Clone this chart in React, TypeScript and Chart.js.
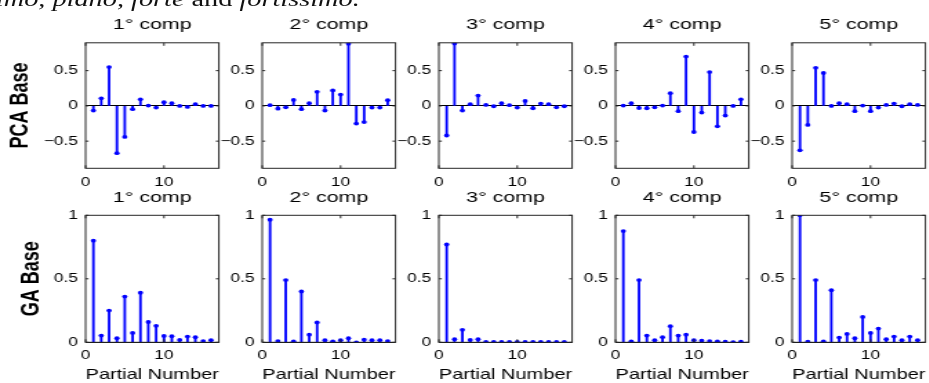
import React, { useEffect, useRef } from "react";
import { Chart, registerables } from "chart.js";
Chart.register(...registerables);

// ---------- data ----------
const partialNumbers = [1, 2, 3, 4, 5, 6, 7, 8, 9, 10, 11, 12, 13, 14, 15, 16];
const compTitles = ["1° comp", "2° comp", "3° comp", "4° comp", "5° comp"];
const rowLabels = ["PCA Base", "GA Base"];
const xAxisLabel = "Partial Number";
const xTicks = [0, 10];
const pcaYTicks = [-0.5, 0, 0.5];
const gaYTicks = [0, 0.5, 1];

const pcaComp1 = [-0.066, 0.108, 0.55, -0.67, -0.44, -0.047, 0.094, 0.005, -0.024, 0.052, 0.038, 0.0, -0.014, 0.024, 0.0, 0.0];
const pcaComp2 = [0.01, -0.04, -0.02, 0.085, -0.047, 0.038, 0.2, -0.066, 0.22, 0.16, 0.88, -0.25, -0.23, -0.024, -0.024, 0.08];
const pcaComp3 = [-0.42, 0.885, -0.066, 0.024, 0.146, 0.014, -0.005, 0.038, 0.01, -0.024, 0.07, -0.033, 0.033, 0.024, -0.02, -0.005];
const pcaComp4 = [0.005, 0.038, -0.03, -0.033, -0.02, 0.005, 0.18, -0.075, 0.7, -0.37, -0.094, 0.48, -0.29, -0.137, 0.0, 0.094];
const pcaComp5 = [-0.63, -0.27, 0.54, 0.467, 0.0, 0.038, 0.024, -0.075, 0.005, -0.075, -0.024, 0.014, 0.033, -0.005, 0.024, 0.014];

const gaComp1 = [0.8, 0.053, 0.25, 0.032, 0.36, 0.074, 0.39, 0.16, 0.13, 0.05, 0.048, 0.019, 0.045, 0.04, 0.01, 0.016];
const gaComp2 = [0.965, 0.01, 0.49, 0.008, 0.4, 0.06, 0.156, 0.016, 0.008, 0.016, 0.032, 0.0, 0.02, 0.016, 0.016, 0.01];
const gaComp3 = [0.77, 0.024, 0.098, 0.018, 0.024, 0.003, 0.003, 0.003, 0.003, 0.003, 0.003, 0.003, 0.003, 0.003, 0.003, 0.003];
const gaComp4 = [0.876, 0.008, 0.49, 0.053, 0.016, 0.04, 0.127, 0.053, 0.06, 0.016, 0.013, 0.01, 0.008, 0.005, 0.002, 0.005];
const gaComp5 = [1.0, 0.005, 0.49, 0.008, 0.41, 0.037, 0.066, 0.032, 0.2, 0.074, 0.108, 0.024, 0.045, 0.016, 0.045, 0.016];

const pcaSeries = [pcaComp1, pcaComp2, pcaComp3, pcaComp4, pcaComp5];
const gaSeries = [gaComp1, gaComp2, gaComp3, gaComp4, gaComp5];

// ---------- layout / style ----------
const SX = 1.38; // horizontal stretch of the whole figure
const FONT = "'Liberation Sans', Arial, Helvetica, sans-serif";
const STEM = "#0000ff";
const panelLefts = [86, 262.7, 439.3, 616, 792.7];
const panelWidth = 133.3;
const Y_ZONE = 58;
const TICK_FONT = 12.5;
const TITLE_FONT = 15.5;
const XLABEL_FONT = 15;
const YLABEL_FONT = 18;
const Y_TICK_PAD = 5.5;

const rows = [
  { AT: 42.8, AB: 168.3, yMin: -0.885, yMax: 0.895, yTicks: pcaYTicks, titleMid: 24.5, CT: 0, xTickMid: 182.7, xTitleMid: 0, yTitleRefX: 20.8, series: pcaSeries },
  { AT: 215.3, AB: 342.3, yMin: 0, yMax: 1, yTicks: gaYTicks, titleMid: 198, CT: 175, xTickMid: 355.3, xTitleMid: 375.3, yTitleRefX: 32.5, series: gaSeries },
];

function fmtTick(v: number) {
  return v < 0 ? "\u2212" + String(Math.abs(v)) : String(v);
}

const matlabAxes = {
  id: "matlabAxes",
  afterDatasetsDraw(chart: any) {
    const { ctx, chartArea } = chart;
    const { left, right, top, bottom } = chartArea;
    const xs = chart.scales.x;
    const ys = chart.scales.y;
    ctx.save();
    ctx.strokeStyle = "#262626";
    ctx.lineWidth = 1;
    ctx.strokeRect(left, top, right - left, bottom - top);
    ctx.beginPath();
    const tlx = 2.2;
    const tly = 3;
    xs.ticks.forEach((t: any) => {
      const px = xs.getPixelForValue(t.value);
      ctx.moveTo(px, bottom);
      ctx.lineTo(px, bottom - tly);
      ctx.moveTo(px, top);
      ctx.lineTo(px, top + tly);
    });
    ys.ticks.forEach((t: any) => {
      const py = ys.getPixelForValue(t.value);
      ctx.moveTo(left, py);
      ctx.lineTo(left + tlx, py);
      ctx.moveTo(right, py);
      ctx.lineTo(right - tlx, py);
    });
    ctx.stroke();
    ctx.restore();
  },
};

function Panel({ row, col }: { row: number; col: number }) {
  const ref = useRef<HTMLCanvasElement>(null);
  const R = rows[row];
  const AL = panelLefts[col] / SX;
  const AW = panelWidth / SX;
  const CL = AL - Y_ZONE;
  const CW = Math.ceil(Y_ZONE + AW + 4);
  const padR = CW - Y_ZONE - AW;
  const tLH = TITLE_FONT * 1.2;
  const titlePadTop = R.titleMid - R.CT - tLH / 2;
  const titlePadBottom = R.AT - R.titleMid - tLH / 2;
  const kLH = TICK_FONT * 1.2;
  const xTickPad = R.xTickMid - R.AB - kLH / 2;
  const xH = R.xTitleMid ? R.xTitleMid + (XLABEL_FONT * 1.2) / 2 - R.AB : 24;
  const inner = R.AB - R.CT + xH;
  const CH = Math.ceil(inner);
  const padB = CH - inner;
  const yTitleLH = YLABEL_FONT * 1.2;
  const yTitlePadTop = R.yTitleRefX / SX - CL - yTitleLH / 2;

  useEffect(() => {
    const vals = R.series[col];
    const pts = partialNumbers.map((x, i) => ({ x, y: vals[i] }));
    const chart = new Chart(ref.current as HTMLCanvasElement, {
      type: "bar",
      data: {
        datasets: [
          { type: "bar", data: pts as any, backgroundColor: STEM, barThickness: 1.2, order: 2 } as any,
          {
            type: "scatter",
            data: pts as any,
            pointRadius: 1.9,
            pointBackgroundColor: STEM,
            pointBorderWidth: 0,
            pointHoverRadius: 0,
            showLine: false,
            order: 1,
          } as any,
        ],
      },
      options: {
        animation: false,
        responsive: false,
        events: [],
        layout: { padding: { left: 0, top: 0, right: padR, bottom: padB } },
        plugins: {
          legend: { display: false },
          tooltip: { enabled: false },
          title: {
            display: true,
            text: compTitles[col],
            fullSize: false,
            font: { family: FONT, size: TITLE_FONT, weight: "normal" },
            color: "#000",
            padding: { top: titlePadTop, bottom: titlePadBottom },
          },
        },
        scales: {
          x: {
            type: "linear",
            min: 0,
            max: 17,
            offset: false,
            afterBuildTicks: (s: any) => {
              s.ticks = xTicks.map((v) => ({ value: v }));
            },
            afterFit: (s: any) => {
              s.height = xH;
            },
            grid: { display: false, drawTicks: false },
            border: { display: false },
            ticks: {
              padding: xTickPad,
              font: { family: FONT, size: TICK_FONT },
              color: "#000",
              maxRotation: 0,
              autoSkip: false,
              callback: (v: any) => fmtTick(Number(v)),
            },
            title:
              row === 1
                ? { display: true, text: xAxisLabel, font: { family: FONT, size: XLABEL_FONT }, color: "#000", padding: { top: 0, bottom: 0 } }
                : { display: false },
          },
          y: {
            type: "linear",
            min: R.yMin,
            max: R.yMax,
            afterBuildTicks: (s: any) => {
              s.ticks = R.yTicks.map((v) => ({ value: v }));
            },
            afterFit: (s: any) => {
              s.width = Y_ZONE;
            },
            grid: {
              drawTicks: false,
              lineWidth: 1,
              color: (c: any) => (c.tick && c.tick.value === 0 ? "#000" : "rgba(0,0,0,0)"),
            },
            border: { display: false },
            ticks: {
              padding: Y_TICK_PAD,
              font: { family: FONT, size: TICK_FONT },
              color: "#000",
              autoSkip: false,
              callback: (v: any) => fmtTick(Number(v)),
            },
            title:
              col === 0
                ? {
                    display: true,
                    text: rowLabels[row],
                    font: { family: FONT, size: YLABEL_FONT, weight: "bold" },
                    color: "#000",
                    padding: { top: yTitlePadTop, bottom: 0 },
                  }
                : { display: false },
          },
        },
      } as any,
      plugins: [matlabAxes as any],
    });
    return () => chart.destroy();
  }, []);

  return (
    <canvas
      ref={ref}
      width={CW}
      height={CH}
      style={{ position: "absolute", left: CL, top: R.CT, width: CW, height: CH }}
    />
  );
}

export default function App() {
  const panels: React.ReactNode[] = [];
  for (let r = 0; r < 2; r++) {
    for (let c = 0; c < 5; c++) {
      panels.push(<Panel key={`${r}-${c}`} row={r} col={c} />);
    }
  }
  return (
    <div style={{ position: "fixed", left: 0, top: 0, width: 929, height: 383, overflow: "hidden", background: "#fff" }}>
      <div
        style={{
          position: "absolute",
          left: 0,
          top: 0,
          width: 929 / SX,
          height: 383,
          transform: `scaleX(${SX})`,
          transformOrigin: "0 0",
        }}
      >
        <div
          style={{
            position: "absolute",
            left: -3,
            top: -10.7,
            fontFamily: "'Liberation Serif', 'DejaVu Serif', serif",
            fontSize: 20.5,
            lineHeight: "20.5px",
            fontStyle: "italic",
            whiteSpace: "nowrap",
            color: "#111",
          }}
        >
          imo, piano, forte <span style={{ fontStyle: "normal" }}>and</span> fortissimo.
        </div>
        {panels}
      </div>
    </div>
  );
}
